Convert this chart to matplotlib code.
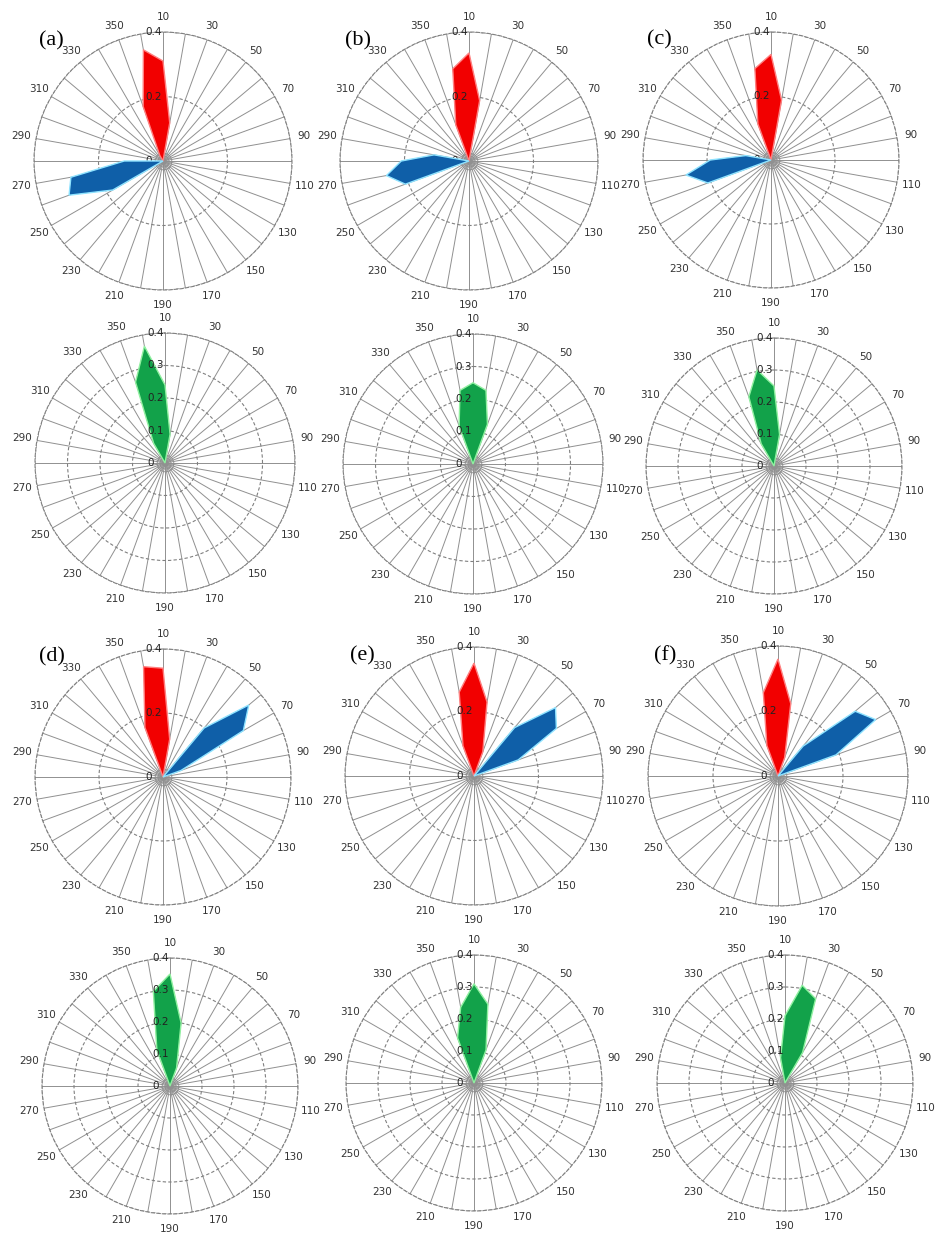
import numpy as np
import matplotlib.pyplot as plt

# 36 direction classes, first class "10" points north, clockwise every 10 deg
categories = list(range(10, 361, 10))

red_a = [0.31, 0.12, 0, 0, 0, 0,  0, 0, 0, 0, 0, 0,  0, 0, 0, 0, 0, 0,
         0, 0, 0, 0, 0, 0,  0, 0, 0, 0, 0, 0,  0, 0, 0, 0.02, 0.18, 0.35]
blue_a = [0, 0, 0, 0, 0, 0,  0, 0, 0, 0, 0, 0,  0, 0, 0, 0, 0, 0,
          0, 0, 0, 0, 0, 0,  0.18, 0.31, 0.29, 0.12, 0, 0,  0, 0, 0, 0, 0, 0]
green_a = [0.24, 0.09, 0, 0, 0, 0,  0, 0, 0, 0, 0, 0,  0, 0, 0, 0, 0, 0,
           0, 0, 0, 0, 0, 0,  0, 0, 0, 0, 0, 0,  0, 0, 0, 0.07, 0.265, 0.365]

red_b = [0.335, 0.19, 0, 0, 0, 0,  0, 0, 0, 0, 0, 0,  0, 0, 0, 0, 0, 0,
         0, 0, 0, 0, 0, 0,  0, 0, 0, 0, 0, 0,  0, 0, 0, 0, 0.12, 0.29]
blue_b = [0, 0, 0, 0, 0, 0,  0, 0, 0, 0, 0, 0,  0, 0, 0, 0, 0, 0,
          0, 0, 0, 0, 0, 0,  0, 0.21, 0.26, 0.21, 0.11, 0,  0, 0, 0, 0, 0, 0]
green_b = [0.25, 0.23, 0.13, 0, 0, 0,  0, 0, 0, 0, 0, 0,  0, 0, 0, 0, 0, 0,
           0, 0, 0, 0, 0, 0,  0, 0, 0, 0, 0, 0,  0, 0, 0, 0, 0.125, 0.23]

red_c = [0.33, 0.19, 0, 0, 0, 0,  0, 0, 0, 0, 0, 0,  0, 0, 0, 0, 0, 0,
         0, 0, 0, 0, 0, 0,  0, 0, 0, 0, 0, 0,  0, 0, 0, 0, 0.12, 0.29]
blue_c = [0, 0, 0, 0, 0, 0,  0, 0, 0, 0, 0, 0,  0, 0, 0, 0, 0, 0,
          0, 0, 0, 0, 0, 0,  0, 0.21, 0.27, 0.19, 0.08, 0,  0, 0, 0, 0, 0, 0]
green_c = [0.25, 0.10, 0, 0, 0, 0,  0, 0, 0, 0, 0, 0,  0, 0, 0, 0, 0, 0,
           0, 0, 0, 0, 0, 0,  0, 0, 0, 0, 0, 0,  0, 0, 0, 0.08, 0.23, 0.305]

red_d = [0.34, 0.12, 0, 0, 0, 0,  0, 0, 0, 0, 0, 0,  0, 0, 0, 0, 0, 0,
         0, 0, 0, 0, 0, 0,  0, 0, 0, 0, 0, 0,  0, 0, 0, 0, 0.165, 0.35]
blue_d = [0, 0, 0, 0, 0.20, 0.35,  0.29, 0.06, 0, 0, 0, 0,  0, 0, 0, 0, 0, 0,
          0, 0, 0, 0, 0, 0,  0, 0, 0, 0, 0, 0,  0, 0, 0, 0, 0, 0]
green_d = [0.35, 0.20, 0.06, 0, 0, 0,  0, 0, 0, 0, 0, 0,  0, 0, 0, 0, 0, 0,
           0, 0, 0, 0, 0, 0,  0, 0, 0, 0, 0, 0,  0, 0, 0, 0, 0.12, 0.30]

red_e = [0.35, 0.233, 0.08, 0, 0, 0,  0, 0, 0, 0, 0, 0,  0, 0, 0, 0, 0, 0,
         0, 0, 0, 0, 0, 0,  0, 0, 0, 0, 0, 0,  0, 0, 0, 0, 0.10, 0.264]
blue_e = [0, 0, 0, 0, 0.196, 0.33,  0.295, 0.146, 0, 0, 0, 0,  0, 0, 0, 0, 0, 0,
          0, 0, 0, 0, 0, 0,  0, 0, 0, 0, 0, 0,  0, 0, 0, 0, 0, 0]
green_e = [0.31, 0.25, 0.11, 0, 0, 0,  0, 0, 0, 0, 0, 0,  0, 0, 0, 0, 0, 0,
           0, 0, 0, 0, 0, 0,  0, 0, 0, 0, 0, 0,  0, 0, 0, 0, 0.15, 0.24]

red_f = [0.36, 0.226, 0.06, 0, 0, 0,  0, 0, 0, 0, 0, 0,  0, 0, 0, 0, 0, 0,
         0, 0, 0, 0, 0, 0,  0, 0, 0, 0, 0, 0,  0, 0, 0, 0, 0.10, 0.26]
blue_f = [0, 0, 0, 0, 0.12, 0.31,  0.347, 0.19, 0, 0, 0, 0,  0, 0, 0, 0, 0, 0,
          0, 0, 0, 0, 0, 0,  0, 0, 0, 0, 0, 0,  0, 0, 0, 0, 0, 0]
green_f = [0.21, 0.31, 0.28, 0.11, 0, 0,  0, 0, 0, 0, 0, 0,  0, 0, 0, 0, 0, 0,
           0, 0, 0, 0, 0, 0,  0, 0, 0, 0, 0, 0,  0, 0, 0, 0, 0, 0.08]

panel_letters = ["(a)", "(b)", "(c)", "(d)", "(e)", "(f)"]
ticks_pair = [0.2, 0.4]
ticks_single = [0.1, 0.2, 0.3, 0.4]

W, H = 942, 1236
fig = plt.figure(figsize=(W / 100, H / 100), dpi=100)

RED = ("#f20000", "#ff8080")
BLUE = ("#0f5fa8", "#8fe3ff")
GREEN = ("#12a24a", "#90f0a0")

theta = np.deg2rad(np.arange(0, 360, 10))
theta_c = np.append(theta, theta[0])


def make_ax(cx, cy, R, rticks):
    ax = fig.add_axes([(cx - R) / W, 1 - (cy + R) / H, 2 * R / W, 2 * R / H],
                      projection="polar")
    ax.set_theta_zero_location("N")
    ax.set_theta_direction(-1)
    ax.set_ylim(0, 0.4)
    ax.set_xticks(theta)
    ax.set_xticklabels([str(c) if i % 2 == 0 else "" for i, c in enumerate(categories)],
                       fontsize=7.5, color="#333333")
    ax.tick_params(axis="x", pad=0)
    ax.set_yticks(rticks)
    ax.set_yticklabels([])
    ax.xaxis.grid(True, color="#909090", lw=0.7, ls="-")
    ax.yaxis.grid(True, color="#808080", lw=0.8, ls=(0, (3, 2)))
    ax.spines["polar"].set_color("#808080")
    ax.spines["polar"].set_linestyle((0, (3, 2)))
    ax.spines["polar"].set_linewidth(0.8)
    # small rings at the centre
    for ms in (4, 8, 12):
        ax.plot(0, 0, "o", mfc="none", mec="#808080", ms=ms, mew=0.6, zorder=1)
    # radial labels
    ax.annotate("0", (0, 0), xytext=(-8, 0), textcoords="offset points",
                ha="right", va="center", fontsize=7.5, color="#222222")
    for r in rticks:
        lab = ("%.1f" % r)
        ax.annotate(lab, (0, r), xytext=(-1, 0), textcoords="offset points",
                    ha="right", va="center", fontsize=7.5, color="#222222", zorder=5)
    return ax


def draw(ax, vals, colors):
    v = np.append(np.array(vals, float), vals[0])
    ax.fill(theta_c, v, facecolor=colors[0], edgecolor=colors[1], lw=1.0, zorder=3)


# centre x, centre y, radius in pixels (layout only)
upper_pos = [(163, 161, 129), (469, 161, 129), (771, 160, 128),
             (163, 777, 128), (474, 776, 129), (778, 776, 130)]
lower_pos = [(165, 463, 130), (473, 464, 130), (774, 466, 128),
             (170, 1086, 128), (474, 1083, 128), (785, 1083, 128)]

reds = [red_a, red_b, red_c, red_d, red_e, red_f]
blues = [blue_a, blue_b, blue_c, blue_d, blue_e, blue_f]
greens = [green_a, green_b, green_c, green_d, green_e, green_f]

for k in range(6):
    cx, cy, R = upper_pos[k]
    ax = make_ax(cx, cy, R, ticks_pair)
    draw(ax, reds[k], RED)
    draw(ax, blues[k], BLUE)
    fig.text((cx - 124) / W, 1 - (cy - 120) / H, panel_letters[k],
             family="Liberation Serif", fontsize=16, ha="left", va="center")

    cx, cy, R = lower_pos[k]
    ax = make_ax(cx, cy, R, ticks_single)
    draw(ax, greens[k], GREEN)

plt.savefig("out.png", dpi=100, facecolor="white")
